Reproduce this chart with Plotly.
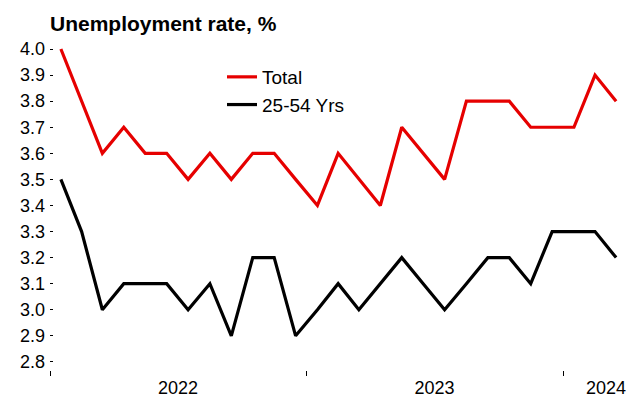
import plotly.graph_objects as go

months = ["2022-01", "2022-02", "2022-03", "2022-04", "2022-05", "2022-06",
          "2022-07", "2022-08", "2022-09", "2022-10", "2022-11", "2022-12",
          "2023-01", "2023-02", "2023-03", "2023-04", "2023-05", "2023-06",
          "2023-07", "2023-08", "2023-09", "2023-10", "2023-11", "2023-12",
          "2024-01", "2024-02", "2024-03"]
total = [4.0, 3.8, 3.6, 3.7, 3.6, 3.6, 3.5, 3.6, 3.5, 3.6, 3.6, 3.5,
         3.4, 3.6, 3.5, 3.4, 3.7, 3.6, 3.5, 3.8, 3.8, 3.8, 3.7, 3.7,
         3.7, 3.9, 3.8]
prime_age = [3.5, 3.3, 3.0, 3.1, 3.1, 3.1, 3.0, 3.1, 2.9, 3.2, 3.2, 2.9,
             3.0, 3.1, 3.0, 3.1, 3.2, 3.1, 3.0, 3.1, 3.2, 3.2, 3.1, 3.3,
             3.3, 3.3, 3.2]
y_ticks = [2.8, 2.9, 3.0, 3.1, 3.2, 3.3, 3.4, 3.5, 3.6, 3.7, 3.8, 3.9, 4.0]
year_labels = ["2022", "2023", "2024"]
year_label_pos = ["2022-07-02", "2023-07-02", "2024-03-02"]
year_bounds = ["2022-01-01", "2023-01-01", "2024-01-01"]

FONT = "Liberation Sans, Arial, sans-serif"

fig = go.Figure()
fig.add_trace(go.Scatter(x=months, y=total, name="Total", mode="lines",
                         xperiod="M1", xperiodalignment="middle",
                         line=dict(color="#e60000", width=3.2), cliponaxis=False))
fig.add_trace(go.Scatter(x=months, y=prime_age, name="25-54 Yrs", mode="lines",
                         xperiod="M1", xperiodalignment="middle",
                         line=dict(color="#000000", width=3.2), cliponaxis=False))

fig.update_layout(
    width=631, height=401,
    margin=dict(l=50, r=4, t=47, b=31, autoexpand=False),
    paper_bgcolor="white", plot_bgcolor="white",
    font=dict(family=FONT, size=18, color="#000000"),
    title=dict(text="<b>Unemployment rate, %</b>", font=dict(family=FONT, size=21, color="#000000"),
               xref="container", yref="container", x=50/631, y=1-24/401,
               xanchor="left", yanchor="middle"),
    showlegend=True,
    legend=dict(xref="container", yref="container", x=222/631, y=1-58/401,
                xanchor="left", yanchor="top", bgcolor="rgba(0,0,0,0)",
                font=dict(family=FONT, size=19, color="#000000"),
                itemwidth=30),
    xaxis=dict(type="date", range=["2022-01-01", "2024-04-01"],
               tickmode="array", tickvals=year_label_pos, ticktext=year_labels,
               ticks="", ticklabelstandoff=5,
               minor=dict(tickmode="array", tickvals=year_bounds, ticks="outside",
                          ticklen=5, tickwidth=1, tickcolor="#000000", showgrid=False),
               showgrid=False, zeroline=False, showline=False,
               tickfont=dict(family=FONT, size=18, color="#000000"),
               automargin=False),
    yaxis=dict(range=[2.769, 4.0077], tickvals=y_ticks,
               ticktext=[f"{v:.1f}" for v in y_ticks],
               ticks="inside", ticklen=3, tickcolor="#000000", tickwidth=1,
               ticklabelstandoff=4,
               showgrid=False, zeroline=False, showline=False,
               tickfont=dict(family=FONT, size=18, color="#000000"),
               automargin=False),
)

fig.write_html("out.html", config={"displayModeBar": False},
               post_script="document.body.style.margin='0px';")
